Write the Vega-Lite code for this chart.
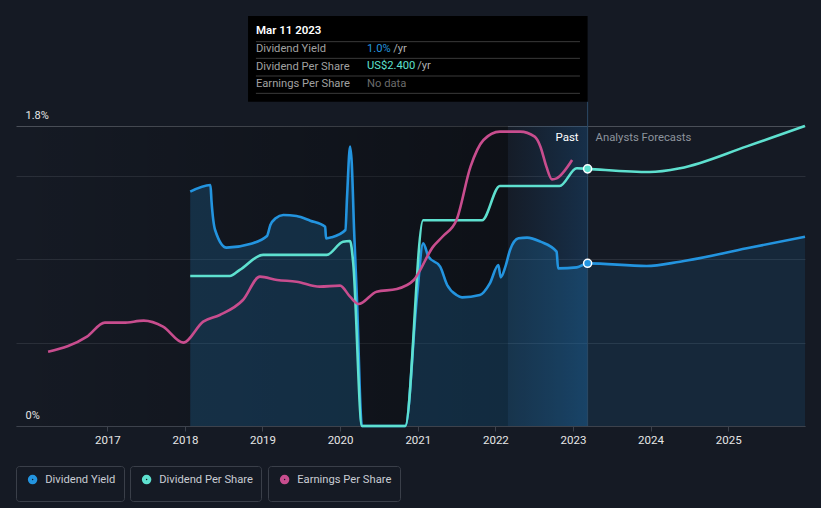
{
  "$schema": "https://vega.github.io/schema/vega-lite/v6.json",
  "width": 789,
  "height": 300,
  "autosize": {"type": "none"},
  "padding": {"left": 16, "top": 126, "right": 16, "bottom": 82},
  "background": "#151a24",
  "config": {
    "font": "Roboto",
    "view": {"stroke": null},
    "legend": {
      "orient": "none",
      "direction": "horizontal",
      "title": null,
      "symbolType": "circle",
      "symbolSize": 16,
      "symbolStrokeWidth": 5.5,
      "labelFontSize": 11.2,
      "labelColor": "#c8ccd3",
      "labelFont": "Roboto",
      "labelOffset": 7,
      "padding": 8,
      "symbolOffset": 3,
      "strokeColor": "#3a3f49",
      "cornerRadius": 3
    }
  },
  "datasets": {
    "yield": [
      {"date": "2018-01-26", "value": 1.406, "period": "past"},
      {"date": "2018-05-01", "value": 1.446, "period": "past"},
      {"date": "2018-05-06", "value": 1.35, "period": "past"},
      {"date": "2018-05-23", "value": 1.176, "period": "past"},
      {"date": "2018-07-16", "value": 1.07, "period": "past"},
      {"date": "2018-11-03", "value": 1.092, "period": "past"},
      {"date": "2019-01-22", "value": 1.14, "period": "past"},
      {"date": "2019-02-07", "value": 1.206, "period": "past"},
      {"date": "2019-03-04", "value": 1.246, "period": "past"},
      {"date": "2019-04-09", "value": 1.266, "period": "past"},
      {"date": "2019-06-10", "value": 1.26, "period": "past"},
      {"date": "2019-08-14", "value": 1.232, "period": "past"},
      {"date": "2019-10-23", "value": 1.196, "period": "past"},
      {"date": "2019-10-27", "value": 1.126, "period": "past"},
      {"date": "2019-11-22", "value": 1.132, "period": "past"},
      {"date": "2020-01-26", "value": 1.176, "period": "past"},
      {"date": "2020-02-03", "value": 1.376, "period": "past"},
      {"date": "2020-02-17", "value": 1.676, "period": "past"},
      {"date": "2020-02-25", "value": 1.578, "period": "past"},
      {"date": "2020-03-07", "value": 1.176, "period": "past"},
      {"date": "2020-03-20", "value": 0.776, "period": "past"},
      {"date": "2020-04-13", "value": 0, "period": "past"},
      {"date": "2020-11-03", "value": 0, "period": "past"},
      {"date": "2020-12-28", "value": 0.776, "period": "past"},
      {"date": "2021-01-26", "value": 1.096, "period": "past"},
      {"date": "2021-02-20", "value": 1.016, "period": "past"},
      {"date": "2021-04-16", "value": 0.956, "period": "past"},
      {"date": "2021-05-19", "value": 0.846, "period": "past"},
      {"date": "2021-07-02", "value": 0.786, "period": "past"},
      {"date": "2021-07-28", "value": 0.772, "period": "past"},
      {"date": "2021-10-20", "value": 0.786, "period": "past"},
      {"date": "2021-12-06", "value": 0.856, "period": "past"},
      {"date": "2022-01-15", "value": 0.966, "period": "past"},
      {"date": "2022-01-26", "value": 0.892, "period": "past"},
      {"date": "2022-02-17", "value": 0.956, "period": "past"},
      {"date": "2022-03-11", "value": 1.056, "period": "past"},
      {"date": "2022-04-20", "value": 1.126, "period": "past"},
      {"date": "2022-05-30", "value": 1.13, "period": "past"},
      {"date": "2022-08-01", "value": 1.106, "period": "past"},
      {"date": "2022-10-16", "value": 1.046, "period": "past"},
      {"date": "2022-10-23", "value": 0.946, "period": "past"},
      {"date": "2023-01-19", "value": 0.952, "period": "past"},
      {"date": "2023-03-11", "value": 0.976, "period": "now"},
      {"date": "2023-12-13", "value": 0.96, "period": "forecast"},
      {"date": "2024-05-19", "value": 0.986, "period": "forecast"},
      {"date": "2025-03-29", "value": 1.066, "period": "forecast"},
      {"date": "2025-12-28", "value": 1.136, "period": "forecast"}
    ],
    "dps": [
      {"date": "2018-01-26", "value": 1.40, "period": "past"},
      {"date": "2018-07-31", "value": 1.40, "period": "past"},
      {"date": "2018-09-16", "value": 1.457, "period": "past"},
      {"date": "2019-01-04", "value": 1.597, "period": "past"},
      {"date": "2019-10-30", "value": 1.597, "period": "past"},
      {"date": "2020-01-15", "value": 1.72, "period": "past"},
      {"date": "2020-02-17", "value": 1.727, "period": "past"},
      {"date": "2020-03-03", "value": 1.52, "period": "past"},
      {"date": "2020-04-13", "value": 0, "period": "past"},
      {"date": "2020-11-03", "value": 0, "period": "past"},
      {"date": "2021-01-26", "value": 1.92, "period": "past"},
      {"date": "2021-10-30", "value": 1.92, "period": "past"},
      {"date": "2022-01-22", "value": 2.24, "period": "past"},
      {"date": "2022-10-30", "value": 2.24, "period": "past"},
      {"date": "2023-01-19", "value": 2.406, "period": "past"},
      {"date": "2023-03-11", "value": 2.40, "period": "now"},
      {"date": "2023-12-28", "value": 2.37, "period": "forecast"},
      {"date": "2024-05-19", "value": 2.406, "period": "forecast"},
      {"date": "2025-03-29", "value": 2.61, "period": "forecast"},
      {"date": "2025-12-28", "value": 2.80, "period": "forecast"}
    ],
    "eps": [
      {"date": "2016-03-28", "value": 2.23},
      {"date": "2016-09-27", "value": 2.68},
      {"date": "2016-12-20", "value": 3.10},
      {"date": "2017-03-18", "value": 3.10},
      {"date": "2017-06-21", "value": 3.16},
      {"date": "2017-09-20", "value": 2.98},
      {"date": "2017-12-24", "value": 2.50},
      {"date": "2018-03-28", "value": 3.13},
      {"date": "2018-06-14", "value": 3.33},
      {"date": "2018-10-01", "value": 3.78},
      {"date": "2018-12-20", "value": 4.48},
      {"date": "2019-03-11", "value": 4.38},
      {"date": "2019-06-10", "value": 4.33},
      {"date": "2019-09-27", "value": 4.18},
      {"date": "2020-01-01", "value": 4.21},
      {"date": "2020-02-17", "value": 3.88},
      {"date": "2020-03-28", "value": 3.66},
      {"date": "2020-06-21", "value": 4.03},
      {"date": "2020-09-24", "value": 4.11},
      {"date": "2020-12-13", "value": 4.38},
      {"date": "2021-03-14", "value": 5.38},
      {"date": "2021-04-30", "value": 5.70},
      {"date": "2021-07-02", "value": 6.18},
      {"date": "2021-09-06", "value": 7.78},
      {"date": "2021-11-06", "value": 8.58},
      {"date": "2022-01-22", "value": 8.83},
      {"date": "2022-04-27", "value": 8.83},
      {"date": "2022-07-05", "value": 8.68},
      {"date": "2022-08-01", "value": 8.38},
      {"date": "2022-08-29", "value": 7.78},
      {"date": "2022-09-24", "value": 7.40},
      {"date": "2022-10-16", "value": 7.43},
      {"date": "2022-12-28", "value": 7.98}
    ]
  },
  "resolve": {"scale": {"y": "independent", "color": "independent"}, "legend": {"color": "independent"}},
  "layer": [
    {
      "data": {"values": [{}]},
      "mark": {"type": "rect", "fill": {"gradient": "linear", "x1": 0, "y1": 0, "x2": 1, "y2": 0, "stops": [{"offset": 0, "color": "rgba(0,0,0,0)"}, {"offset": 1, "color": "rgba(0,0,0,0.36)"}]}},
      "encoding": {
        "x": {"datum": {"year": 2015, "month": 10, "date": 29}, "type": "temporal", "scale": {"domain": [{"year": 2015, "month": 10, "date": 29}, {"year": 2025, "month": 12, "date": 28}]}},
        "x2": {"datum": {"year": 2022, "month": 3, "date": 1}}
      }
    },
    {
      "data": {"values": [{}]},
      "mark": {"type": "rect", "fill": {"gradient": "linear", "x1": 0, "y1": 0, "x2": 1, "y2": 0, "stops": [{"offset": 0, "color": "rgba(25,80,130,0.04)"}, {"offset": 1, "color": "rgba(25,85,140,0.36)"}]}},
      "encoding": {
        "x": {"datum": {"year": 2022, "month": 3, "date": 1}, "type": "temporal", "scale": {"domain": [{"year": 2015, "month": 10, "date": 29}, {"year": 2025, "month": 12, "date": 28}]}},
        "x2": {"datum": {"year": 2023, "month": 3, "date": 11}}
      }
    },
    {
      "data": {"name": "yield"},
      "transform": [{"filter": "datum.period !== 'forecast'"}],
      "mark": {"type": "area", "interpolate": "monotone", "color": "#2394df", "opacity": 0.2},
      "encoding": {
        "x": {"field": "date", "type": "temporal", "scale": {"domain": [{"year": 2015, "month": 10, "date": 29}, {"year": 2025, "month": 12, "date": 28}]}},
        "y": {"field": "value", "type": "quantitative", "scale": {"domain": [0, 1.8]}, "axis": null}
      }
    },
    {
      "data": {"name": "yield"},
      "transform": [{"filter": "datum.period !== 'past'"}],
      "mark": {"type": "area", "interpolate": "monotone", "color": "#2394df", "opacity": 0.12},
      "encoding": {
        "x": {"field": "date", "type": "temporal", "scale": {"domain": [{"year": 2015, "month": 10, "date": 29}, {"year": 2025, "month": 12, "date": 28}]}},
        "y": {"field": "value", "type": "quantitative", "scale": {"domain": [0, 1.8]}, "axis": null}
      }
    },
    {
      "data": {"name": "yield"},
      "mark": {"type": "line", "interpolate": "monotone", "strokeWidth": 2.6},
      "encoding": {
        "x": {
          "field": "date", "type": "temporal",
          "scale": {"domain": [{"year": 2015, "month": 10, "date": 29}, {"year": 2025, "month": 12, "date": 28}]},
          "axis": {
            "values": [{"year": 2017}, {"year": 2018}, {"year": 2019}, {"year": 2020}, {"year": 2021}, {"year": 2022}, {"year": 2023}, {"year": 2024}, {"year": 2025}],
            "format": "%Y", "title": null, "grid": false,
            "domain": true, "domainColor": "#3d424c", "ticks": true, "tickColor": "#3d424c", "tickSize": 5,
            "labelColor": "#e6e6e6", "labelFontSize": 11.5, "labelPadding": 3
          }
        },
        "y": {
          "field": "value", "type": "quantitative", "scale": {"domain": [0, 1.8]},
          "axis": {
            "orient": "left",
            "values": [0, 0.5, 1, 1.5, 1.8],
            "title": null, "domain": false, "ticks": false, "tickSize": 0,
            "grid": true,
            "gridColor": {"condition": {"test": "datum.value === 1.8", "value": "#4a4f58"}, "value": "#2a2f39"},
            "labelExpr": "datum.value === 0 ? '0%' : (datum.value === 1.8 ? '1.8%' : '')",
            "labelAlign": "left", "labelBaseline": "bottom", "labelPadding": -9, "labelOffset": -6,
            "labelColor": "#e6e6e6", "labelFontSize": 11
          }
        },
        "color": {"datum": "Dividend Yield", "type": "nominal", "scale": {"domain": ["Dividend Yield"], "range": ["#2394df"]}, "legend": {"legendX": 0, "legendY": 340}}
      }
    },
    {
      "data": {"name": "dps"},
      "mark": {"type": "line", "interpolate": "monotone", "strokeWidth": 2.6},
      "encoding": {
        "x": {"field": "date", "type": "temporal", "scale": {"domain": [{"year": 2015, "month": 10, "date": 29}, {"year": 2025, "month": 12, "date": 28}]}},
        "y": {"field": "value", "type": "quantitative", "scale": {"domain": [0, 2.8]}, "axis": null},
        "color": {"datum": "Dividend Per Share", "type": "nominal", "scale": {"domain": ["Dividend Per Share"], "range": ["#5ee0cf"]}, "legend": {"legendX": 114, "legendY": 340}}
      }
    },
    {
      "data": {"name": "eps"},
      "mark": {"type": "line", "interpolate": "monotone", "strokeWidth": 2.6},
      "encoding": {
        "x": {"field": "date", "type": "temporal", "scale": {"domain": [{"year": 2015, "month": 10, "date": 29}, {"year": 2025, "month": 12, "date": 28}]}},
        "y": {"field": "value", "type": "quantitative", "scale": {"domain": [0, 9]}, "axis": null},
        "color": {"datum": "Earnings Per Share", "type": "nominal", "scale": {"domain": ["Earnings Per Share"], "range": ["#c84d8e"]}, "legend": {"legendX": 252, "legendY": 340}}
      }
    },
    {
      "data": {"values": [{}]},
      "mark": {"type": "rule", "color": "#2b4a66", "strokeWidth": 1},
      "encoding": {
        "x": {"datum": {"year": 2023, "month": 3, "date": 11}, "type": "temporal", "scale": {"domain": [{"year": 2015, "month": 10, "date": 29}, {"year": 2025, "month": 12, "date": 28}]}},
        "y": {"datum": 0, "type": "quantitative", "scale": {"domain": [0, 1.8]}, "axis": null},
        "y2": {"datum": 1.946}
      }
    },
    {
      "data": {"name": "yield"},
      "transform": [{"filter": "datum.period === 'now'"}],
      "mark": {"type": "point", "filled": true, "color": "#2394df", "stroke": "#ffffff", "strokeWidth": 1.5, "size": 65, "opacity": 1},
      "encoding": {
        "x": {"field": "date", "type": "temporal", "scale": {"domain": [{"year": 2015, "month": 10, "date": 29}, {"year": 2025, "month": 12, "date": 28}]}},
        "y": {"field": "value", "type": "quantitative", "scale": {"domain": [0, 1.8]}, "axis": null}
      }
    },
    {
      "data": {"name": "dps"},
      "transform": [{"filter": "datum.period === 'now'"}],
      "mark": {"type": "point", "filled": true, "color": "#5ee0cf", "stroke": "#ffffff", "strokeWidth": 1.5, "size": 65, "opacity": 1},
      "encoding": {
        "x": {"field": "date", "type": "temporal", "scale": {"domain": [{"year": 2015, "month": 10, "date": 29}, {"year": 2025, "month": 12, "date": 28}]}},
        "y": {"field": "value", "type": "quantitative", "scale": {"domain": [0, 2.8]}, "axis": null}
      }
    },
    {
      "data": {"values": [{"label": "Past"}]},
      "mark": {"type": "text", "align": "right", "baseline": "middle", "dx": -9, "fontSize": 11.5, "color": "#ffffff"},
      "encoding": {
        "x": {"datum": {"year": 2023, "month": 3, "date": 11}, "type": "temporal", "scale": {"domain": [{"year": 2015, "month": 10, "date": 29}, {"year": 2025, "month": 12, "date": 28}]}},
        "y": {"datum": 1.728, "type": "quantitative", "scale": {"domain": [0, 1.8]}, "axis": null},
        "text": {"field": "label"}
      }
    },
    {
      "data": {"values": [{"label": "Analysts Forecasts"}]},
      "mark": {"type": "text", "align": "left", "baseline": "middle", "dx": 8, "fontSize": 11.3, "color": "#8d949d"},
      "encoding": {
        "x": {"datum": {"year": 2023, "month": 3, "date": 11}, "type": "temporal", "scale": {"domain": [{"year": 2015, "month": 10, "date": 29}, {"year": 2025, "month": 12, "date": 28}]}},
        "y": {"datum": 1.728, "type": "quantitative", "scale": {"domain": [0, 1.8]}, "axis": null},
        "text": {"field": "label"}
      }
    },
    {
      "data": {"values": [{}]},
      "mark": {"type": "rect", "fill": "#000000"},
      "encoding": {
        "x": {"datum": {"year": 2018, "month": 10, "date": 25}, "type": "temporal", "scale": {"domain": [{"year": 2015, "month": 10, "date": 29}, {"year": 2025, "month": 12, "date": 28}]}},
        "x2": {"datum": {"year": 2023, "month": 3, "date": 11}},
        "y": {"datum": 2.46, "type": "quantitative", "scale": {"domain": [0, 1.8]}, "axis": null},
        "y2": {"datum": 1.946}
      }
    },
    {
      "data": {"values": [{}]},
      "mark": {"type": "rule", "color": "#3a3a3a", "strokeWidth": 1},
      "encoding": {
        "x": {"datum": {"year": 2018, "month": 12, "date": 1}, "type": "temporal", "scale": {"domain": [{"year": 2015, "month": 10, "date": 29}, {"year": 2025, "month": 12, "date": 28}]}},
        "x2": {"datum": {"year": 2023, "month": 2, "date": 3}},
        "y": {"datum": 2.306, "type": "quantitative", "scale": {"domain": [0, 1.8]}, "axis": null}
      }
    },
    {
      "data": {"values": [{}]},
      "mark": {"type": "rule", "color": "#3a3a3a", "strokeWidth": 1},
      "encoding": {
        "x": {"datum": {"year": 2018, "month": 12, "date": 1}, "type": "temporal", "scale": {"domain": [{"year": 2015, "month": 10, "date": 29}, {"year": 2025, "month": 12, "date": 28}]}},
        "x2": {"datum": {"year": 2023, "month": 2, "date": 3}},
        "y": {"datum": 2.206, "type": "quantitative", "scale": {"domain": [0, 1.8]}, "axis": null}
      }
    },
    {
      "data": {"values": [{}]},
      "mark": {"type": "rule", "color": "#3a3a3a", "strokeWidth": 1},
      "encoding": {
        "x": {"datum": {"year": 2018, "month": 12, "date": 1}, "type": "temporal", "scale": {"domain": [{"year": 2015, "month": 10, "date": 29}, {"year": 2025, "month": 12, "date": 28}]}},
        "x2": {"datum": {"year": 2023, "month": 2, "date": 3}},
        "y": {"datum": 2.10, "type": "quantitative", "scale": {"domain": [0, 1.8]}, "axis": null}
      }
    },
    {
      "data": {"values": [{}]},
      "mark": {"type": "rule", "color": "#3a3a3a", "strokeWidth": 1},
      "encoding": {
        "x": {"datum": {"year": 2018, "month": 12, "date": 1}, "type": "temporal", "scale": {"domain": [{"year": 2015, "month": 10, "date": 29}, {"year": 2025, "month": 12, "date": 28}]}},
        "x2": {"datum": {"year": 2023, "month": 2, "date": 3}},
        "y": {"datum": 1.996, "type": "quantitative", "scale": {"domain": [0, 1.8]}, "axis": null}
      }
    },
    {
      "data": {"values": [{"label": "Mar 11 2023"}]},
      "mark": {"type": "text", "align": "left", "baseline": "middle", "fontSize": 11.5, "fontWeight": 600, "color": "#ffffff"},
      "encoding": {
        "x": {"datum": {"year": 2018, "month": 12, "date": 1}, "type": "temporal", "scale": {"domain": [{"year": 2015, "month": 10, "date": 29}, {"year": 2025, "month": 12, "date": 28}]}},
        "y": {"datum": 2.37, "type": "quantitative", "scale": {"domain": [0, 1.8]}, "axis": null},
        "text": {"field": "label"}
      }
    },
    {
      "data": {"values": [{}]},
      "mark": {"type": "text", "align": "left", "baseline": "middle", "fontSize": 11.2, "color": "#a0a0a0", "lineHeight": 17.5, "text": ["Dividend Yield", "Dividend Per Share", "Earnings Per Share"]},
      "encoding": {
        "x": {"datum": {"year": 2018, "month": 12, "date": 1}, "type": "temporal", "scale": {"domain": [{"year": 2015, "month": 10, "date": 29}, {"year": 2025, "month": 12, "date": 28}]}},
        "y": {"datum": 2.26, "type": "quantitative", "scale": {"domain": [0, 1.8]}, "axis": null}
      }
    },
    {
      "data": {"values": [{"label": "1.0%"}]},
      "mark": {"type": "text", "align": "left", "baseline": "middle", "fontSize": 11.2, "color": "#2394df"},
      "encoding": {
        "x": {"datum": {"year": 2020, "month": 5, "date": 7}, "type": "temporal", "scale": {"domain": [{"year": 2015, "month": 10, "date": 29}, {"year": 2025, "month": 12, "date": 28}]}},
        "y": {"datum": 2.26, "type": "quantitative", "scale": {"domain": [0, 1.8]}, "axis": null},
        "text": {"field": "label"}
      }
    },
    {
      "data": {"values": [{"label": "US$2.400"}]},
      "mark": {"type": "text", "align": "left", "baseline": "middle", "fontSize": 11.2, "color": "#5ee0cf"},
      "encoding": {
        "x": {"datum": {"year": 2020, "month": 5, "date": 7}, "type": "temporal", "scale": {"domain": [{"year": 2015, "month": 10, "date": 29}, {"year": 2025, "month": 12, "date": 28}]}},
        "y": {"datum": 2.16, "type": "quantitative", "scale": {"domain": [0, 1.8]}, "axis": null},
        "text": {"field": "label"}
      }
    },
    {
      "data": {"values": [{"label": "No data"}]},
      "mark": {"type": "text", "align": "left", "baseline": "middle", "fontSize": 11.2, "color": "#6b6b6b"},
      "encoding": {
        "x": {"datum": {"year": 2020, "month": 5, "date": 7}, "type": "temporal", "scale": {"domain": [{"year": 2015, "month": 10, "date": 29}, {"year": 2025, "month": 12, "date": 28}]}},
        "y": {"datum": 2.052, "type": "quantitative", "scale": {"domain": [0, 1.8]}, "axis": null},
        "text": {"field": "label"}
      }
    },
    {
      "data": {"values": [{"label": "/yr"}]},
      "mark": {"type": "text", "align": "left", "baseline": "middle", "fontSize": 11.2, "color": "#b0b0b0"},
      "encoding": {
        "x": {"datum": {"year": 2020, "month": 9, "date": 7}, "type": "temporal", "scale": {"domain": [{"year": 2015, "month": 10, "date": 29}, {"year": 2025, "month": 12, "date": 28}]}},
        "y": {"datum": 2.26, "type": "quantitative", "scale": {"domain": [0, 1.8]}, "axis": null},
        "text": {"field": "label"}
      }
    },
    {
      "data": {"values": [{"label": "/yr"}]},
      "mark": {"type": "text", "align": "left", "baseline": "middle", "fontSize": 11.2, "color": "#b0b0b0"},
      "encoding": {
        "x": {"datum": {"year": 2020, "month": 12, "date": 29}, "type": "temporal", "scale": {"domain": [{"year": 2015, "month": 10, "date": 29}, {"year": 2025, "month": 12, "date": 28}]}},
        "y": {"datum": 2.16, "type": "quantitative", "scale": {"domain": [0, 1.8]}, "axis": null},
        "text": {"field": "label"}
      }
    }
  ]
}
